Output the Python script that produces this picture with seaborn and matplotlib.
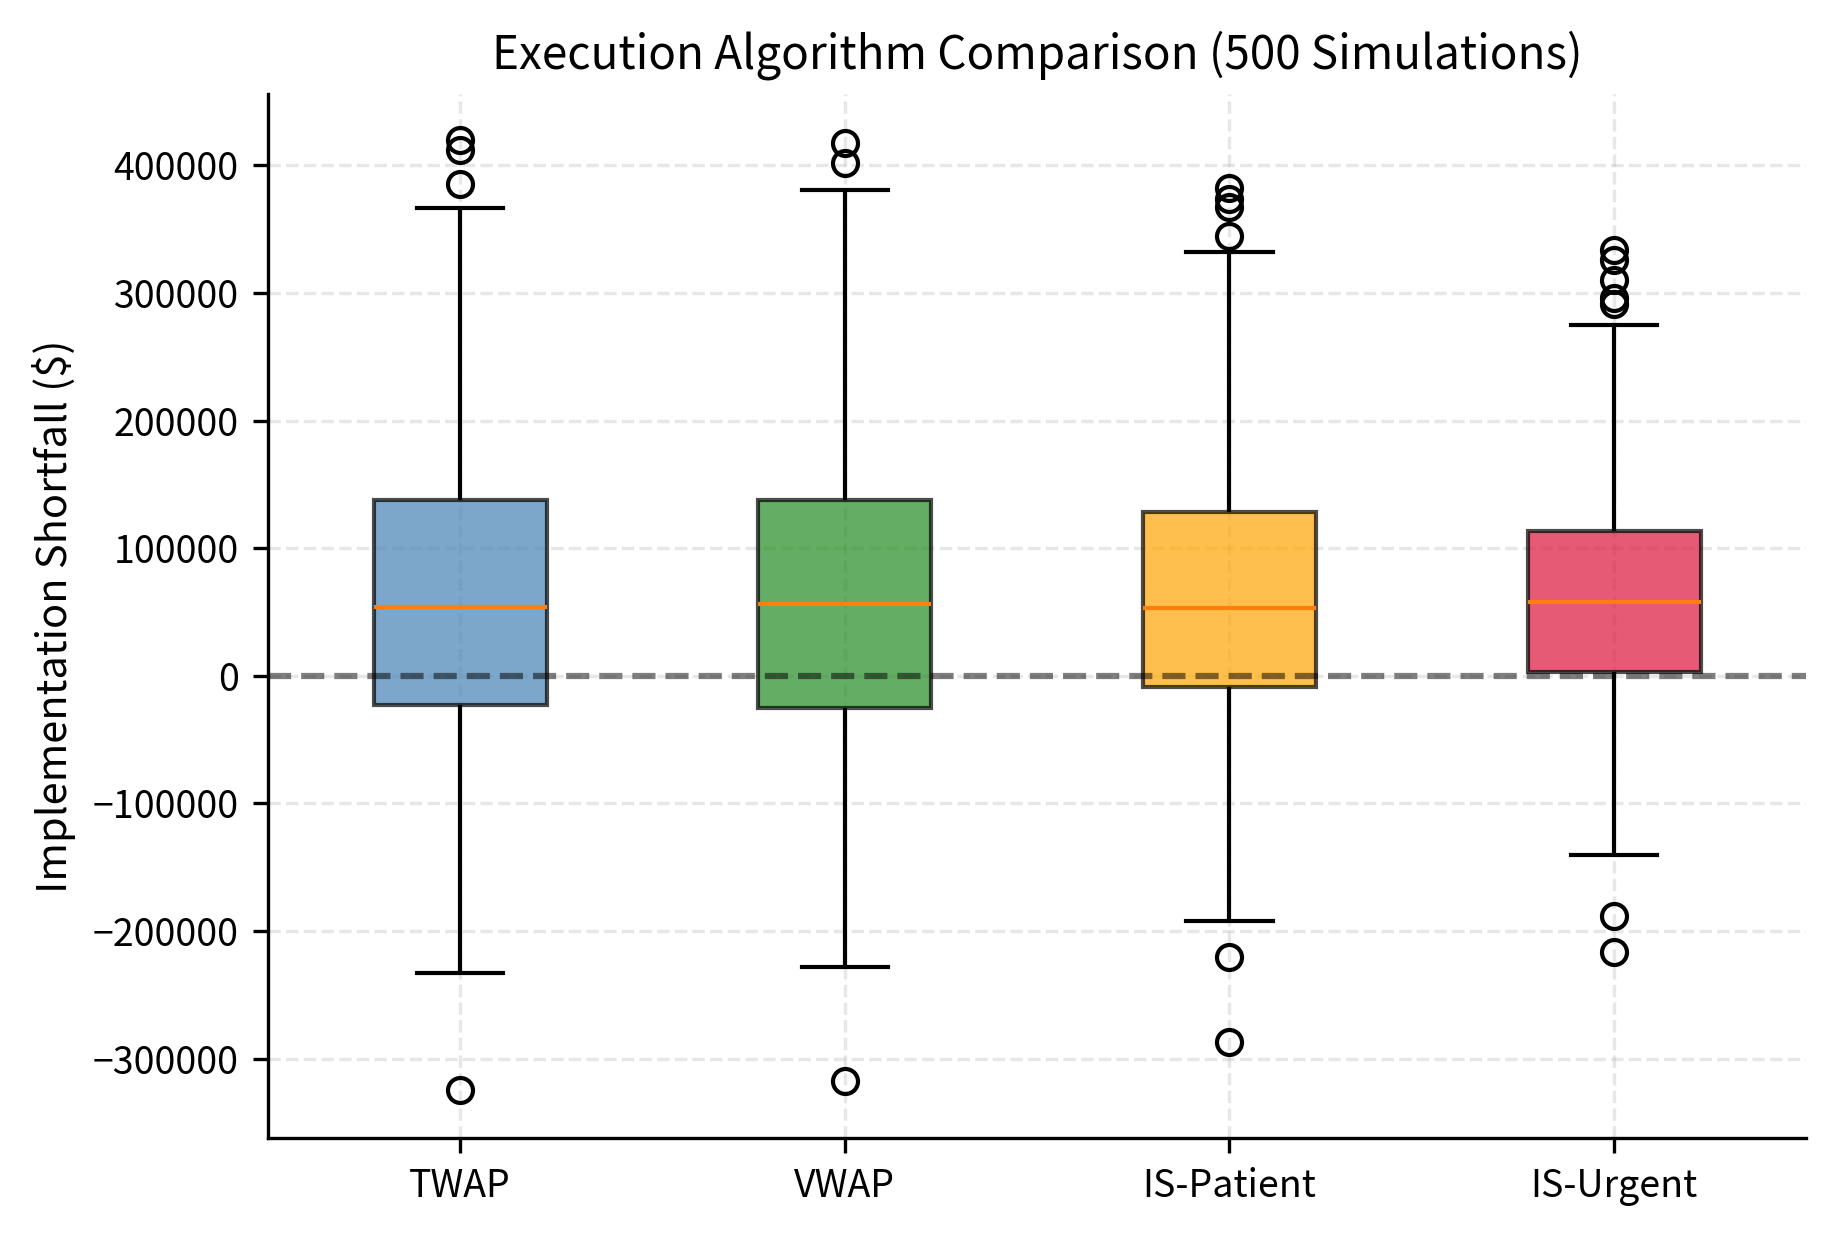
import matplotlib
matplotlib.use("Agg")
import matplotlib.pyplot as plt
import seaborn as sns
import pandas as pd

# Values (box-plot summary per algorithm)
algorithms = ["TWAP", "VWAP", "IS-Patient", "IS-Urgent"]
colors = ["steelblue", "forestgreen", "orange", "crimson"]

q1 = [-22900, -25600, -9200, 2700]
median = [54000, 55900, 53100, 57700]
q3 = [137400, 137400, 128200, 113600]
whisker_low = [-232600, -228000, -192300, -140100]
whisker_high = [366300, 381000, 332400, 274700]
outliers_low = [
    [-324200],
    [-317800],
    [-220700, -286600],
    [-188600, -216100],
]
outliers_high = [
    [419400, 412000, 385500],
    [417600, 402000],
    [381900, 373600, 367200, 344300],
    [333300, 326000, 310400, 295800, 291200],
]

# Build a sample per algorithm whose box-plot statistics equal the values above
rows = []
for i, name in enumerate(algorithms):
    vals = (outliers_low[i] + [whisker_low[i]]
            + [q1[i]] * 20 + [median[i]] * 20 + [q3[i]] * 20
            + [whisker_high[i]] + outliers_high[i])
    rows += [(name, v) for v in vals]
df = pd.DataFrame(rows, columns=["Algorithm", "Shortfall"])

plt.rcParams["font.family"] = ["Noto Sans CJK JP", "DejaVu Sans"]
plt.rcParams["axes.unicode_minus"] = True

fig = plt.figure(figsize=(1834 / 300, 1234 / 300), dpi=300)
ax = fig.add_axes([0.146, 0.078, 0.839, 0.846])

sns.boxplot(
    data=df, x="Algorithm", y="Shortfall", hue="Algorithm",
    order=algorithms, hue_order=algorithms, palette=colors,
    saturation=1, width=0.45, linecolor="black", linewidth=1.0,
    legend=False, ax=ax,
    boxprops=dict(alpha=0.7),
    medianprops=dict(color="#ff7f0e", linewidth=1.0),
    whiskerprops=dict(color="black", linewidth=1.0),
    capprops=dict(color="black", linewidth=1.0),
    flierprops=dict(marker="o", markersize=6, markerfacecolor="none",
                    markeredgecolor="black", markeredgewidth=1.0),
)

ax.axhline(0, color="black", linestyle="--", alpha=0.5, linewidth=1.5)
ax.set_ylim(-362000, 456000)
ax.set_xlim(-0.5, 3.5)
ax.grid(True, linestyle="--", alpha=0.3)
ax.set_axisbelow(True)
ax.tick_params(axis="both", labelsize=9)
ax.set_xlabel("")
ax.set_ylabel("Implementation Shortfall ($)", fontsize=10)
ax.set_title("Execution Algorithm Comparison (500 Simulations)", fontsize=11)
sns.despine(ax=ax)

fig.savefig("out.png", dpi=300)
